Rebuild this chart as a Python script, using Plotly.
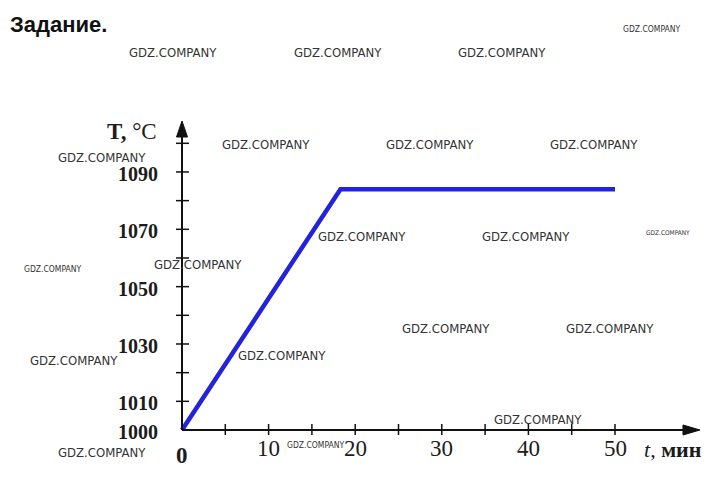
import plotly.graph_objects as go

# ---- data ----
time_min = [0, 18.3, 50]
temp_c = [1000, 1084, 1084]
y_tick_values = [1010, 1020, 1030, 1040, 1050, 1060, 1070, 1080, 1090, 1100]
y_label_values = [1000, 1010, 1030, 1050, 1070, 1090]
x_tick_values = [5, 10, 15, 20, 25, 30, 35, 40, 45, 50]
x_label_values = [0, 10, 20, 30, 40, 50]
title_text = "Задание."
watermark = "GDZ.COMPANY"
# watermark placements (pixel centre x, y, font size)
wm_positions = [
    (173, 52, 13), (338, 52, 13), (502, 52, 13), (651, 29, 8.5),
    (266, 144, 13), (430, 144, 13), (594, 144, 13), (102, 157, 13),
    (362, 236, 13), (526, 236, 13), (668, 233, 6.5), (52, 269, 8.5),
    (198, 264, 13), (446, 328, 13), (610, 328, 13), (74, 360, 13),
    (282, 355, 13), (538, 419, 13), (102, 452, 13), (315, 445, 8.5),
]

W, H = 725, 485
OFF = 8                        # page body margin offset
X0PX, XSCALE = 182, 8.66       # px per minute
Y0PX, YSCALE = 430, 2.867      # px per degree


def px2x(px):
    return (px - X0PX) / XSCALE


def py2y(py):
    return 1000 + (Y0PX - py) / YSCALE


def PX(px):
    return (px - OFF) / W


def PY(py):
    return 1 - (py - OFF) / H


fig = go.Figure()
fig.add_trace(go.Scatter(x=time_min, y=temp_c, mode="lines",
                         line=dict(color="#2323dc", width=4.5),
                         hoverinfo="skip", showlegend=False))

shapes = []
axis_col = "#111111"
# axis lines
shapes.append(dict(type="line", xref="x", yref="y", x0=0, y0=1000, x1=0, y1=py2y(134),
                   line=dict(color=axis_col, width=2)))
shapes.append(dict(type="line", xref="x", yref="y", x0=0, y0=1000, x1=px2x(688), y1=1000,
                   line=dict(color=axis_col, width=2)))


def P(px, py):
    return f"{PX(px):.5f},{PY(py):.5f}"


shapes.append(dict(type="path", xref="paper", yref="paper",
                   path=f"M {P(X0PX, 121)} L {P(X0PX - 5.5, 137)} L {P(X0PX + 5.5, 137)} Z",
                   fillcolor=axis_col, line=dict(color=axis_col, width=1)))
shapes.append(dict(type="path", xref="paper", yref="paper",
                   path=f"M {P(700, Y0PX)} L {P(683, Y0PX - 5)} L {P(683, Y0PX + 5)} Z",
                   fillcolor=axis_col, line=dict(color=axis_col, width=1)))
# ticks
for v in y_tick_values:
    shapes.append(dict(type="line", xref="x", yref="y", x0=px2x(X0PX - 6), x1=px2x(X0PX + 7),
                       y0=v, y1=v, line=dict(color=axis_col, width=1.5)))
for v in x_tick_values:
    shapes.append(dict(type="line", xref="x", yref="y", x0=v, x1=v,
                       y0=py2y(Y0PX + 5), y1=py2y(Y0PX - 6), line=dict(color=axis_col, width=1.5)))

annotations = []
serif = "Liberation Serif, Times New Roman, serif"
txt_col = "#1c1c1c"
for v in y_label_values:
    annotations.append(dict(x=px2x(160), y=v, xref="x", yref="y", text=f"<b>{v}</b>",
                            showarrow=False, xanchor="right", yanchor="middle", yshift=-2,
                            font=dict(family=serif, size=20, color=txt_col)))
for v in x_label_values:
    lbl = f"<b>{v}</b>" if v == 0 else str(v)
    annotations.append(dict(x=v, y=py2y(448 if v else 455), xref="x", yref="y", text=lbl,
                            showarrow=False, xanchor="center", yanchor="middle",
                            font=dict(family=serif, size=23, color=txt_col)))
annotations.append(dict(x=PX(642), y=PY(449), xref="paper", yref="paper",
                        text="<i>t</i>, <b>мин</b>", showarrow=False, xanchor="left", yanchor="middle",
                        font=dict(family=serif, size=22, color=txt_col)))
annotations.append(dict(x=PX(105), y=PY(131), xref="paper", yref="paper",
                        text="<b>T,</b> °C", showarrow=False, xanchor="left", yanchor="middle",
                        font=dict(family=serif, size=23, color=txt_col)))
annotations.append(dict(x=PX(8), y=PY(25), xref="paper", yref="paper",
                        text=f"<b>{title_text}</b>", showarrow=False, xanchor="left", yanchor="middle",
                        font=dict(family="Liberation Sans, Arial, sans-serif", size=22, color="#111111")))
for (cx, cy, fs) in wm_positions:
    annotations.append(dict(x=PX(cx), y=PY(cy), xref="paper", yref="paper",
                            text=watermark, showarrow=False, xanchor="center", yanchor="middle",
                            font=dict(family="Liberation Sans Narrow, DejaVu Sans Condensed, sans-serif",
                                      size=fs, color="#333333")))

fig.update_layout(
    width=W, height=H, margin=dict(l=0, r=0, t=0, b=0),
    paper_bgcolor="white", plot_bgcolor="white",
    xaxis=dict(range=[px2x(OFF), px2x(W + OFF)], visible=False, fixedrange=True),
    yaxis=dict(range=[py2y(H + OFF), py2y(OFF)], visible=False, fixedrange=True),
    shapes=shapes, annotations=annotations, showlegend=False,
)
fig.write_html("out.html")
